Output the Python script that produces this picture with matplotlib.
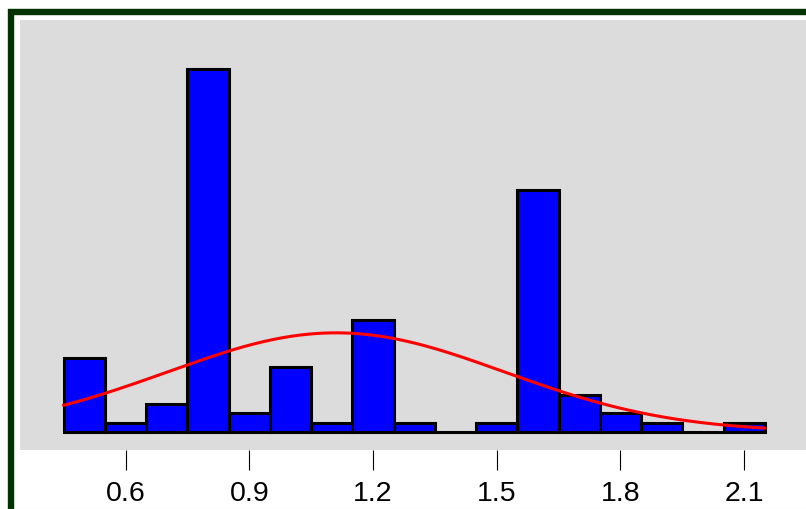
import numpy as np
import matplotlib
matplotlib.use('Agg')
import matplotlib.pyplot as plt
from matplotlib.patches import Rectangle

# histogram data
bin_centers = [0.5, 0.6, 0.7, 0.8, 0.9, 1.0, 1.1, 1.2, 1.3, 1.4, 1.5, 1.6, 1.7, 1.8, 1.9, 2.0, 2.1]
counts = [8, 1, 3, 39, 2, 7, 1, 12, 1, 0, 1, 26, 4, 2, 1, 0, 1]
bin_width = 0.1
tick_values = [0.6, 0.9, 1.2, 1.5, 1.8, 2.1]
tick_labels = ['0.6', '0.9', '1.2', '1.5', '1.8', '2.1']

plt.rcParams['font.family'] = ['Liberation Sans', 'DejaVu Sans']

fig = plt.figure(figsize=(8.06, 5.09), dpi=100)
fig.patch.set_facecolor('white')

ax = fig.add_axes([20 / 806, 59 / 509, 786 / 806, 430 / 509])
ax.set_facecolor('#dcdcdc')

# bars
ax.bar(bin_centers, counts, width=bin_width, color='#0000ff',
       edgecolor='black', linewidth=2.2, zorder=2)

# fitted normal curve scaled to counts
c = np.array(bin_centers)
n = np.array(counts)
total = n.sum()
mean = (c * n).sum() / total
sd = np.sqrt(((c - mean) ** 2 * n).sum() / total)
xs = np.linspace(c[0] - bin_width / 2, c[-1] + bin_width / 2, 300)
ys = total * bin_width / (sd * np.sqrt(2 * np.pi)) * np.exp(-0.5 * ((xs - mean) / sd) ** 2)
ax.plot(xs, ys, color='#ff0000', linewidth=2.2, zorder=3)

ax.set_xlim(0.344, 2.25)
ax.set_ylim(-1.94, 44.3)
ax.set_xticks(tick_values)
ax.set_xticklabels(tick_labels, fontsize=20.5)
ax.set_yticks([])
ax.tick_params(axis='x', direction='out', length=14.5, width=0.8, pad=8, colors='black')
for s in ax.spines.values():
    s.set_visible(False)

# dark green frame (cropped on right and bottom)
fig.add_artist(Rectangle((10.5 / 806, -0.1), 1.2, (509 - 11.5) / 509 + 0.1,
                         transform=fig.transFigure, fill=False,
                         edgecolor='#003300', linewidth=4.6, zorder=0))
fig.add_artist(plt.Line2D([0, 1], [0.5 / 509, 0.5 / 509], transform=fig.transFigure,
                          color='#a9c8a9', linewidth=0.8))

fig.savefig('out.png', dpi=100)
